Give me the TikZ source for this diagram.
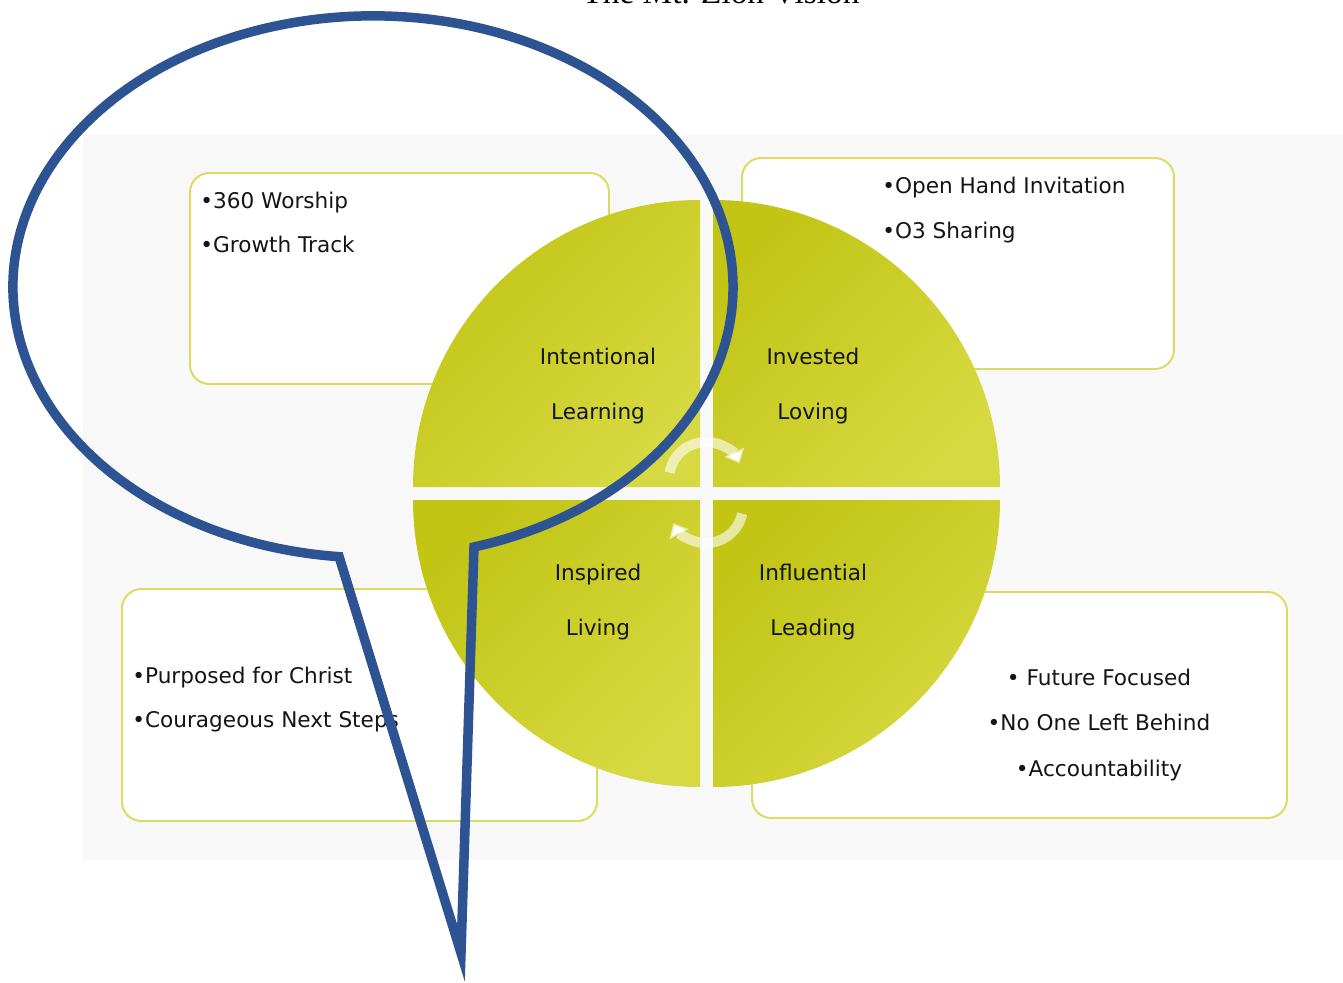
\documentclass[tikz,border=0pt]{standalone}
\usepackage{fontspec}
\setmainfont{DejaVu Sans}
\newfontfamily\titlefont{Liberation Serif}
\usetikzlibrary{arrows.meta}

\definecolor{panelgray}{RGB}{248,248,248}
\definecolor{boxline}{RGB}{216,220,96}
\definecolor{qdark}{RGB}{194,197,20}
\definecolor{qmid}{RGB}{214,218,32}
\definecolor{qlight}{RGB}{215,217,66}
\definecolor{calloutblue}{RGB}{46,83,146}
\definecolor{txt}{RGB}{20,20,20}

\begin{document}
\begin{tikzpicture}[
                x=0.02cm, y=-0.02cm,
                panel/.style={draw=boxline, line width=1.1pt, fill=white, rounded corners=11pt},
                quad/.style={shade, left color=qdark, middle color=qmid, right color=qlight, shading angle=45},
                quadlabel/.style={font=\fontsize{12.3}{14}\selectfont, text=txt, anchor=base, inner sep=0pt},
                item/.style={font=\fontsize{12.3}{14}\selectfont, text=txt, anchor=base west, inner sep=0pt},
                loop/.style={draw=white, draw opacity=0.6, line width=5.8pt, -{Triangle[width=12pt,length=7pt]}},
                callout/.style={draw=calloutblue, line width=5.4pt, line join=miter},
            ]
            \useasboundingbox (0,0) rectangle (1343,983);
            \fill[white] (0,0) rectangle (1343,983);

            % Titulo (cortado arriba)
            \node[font=\titlefont\fontsize{19}{22}\selectfont, anchor=base, inner sep=0pt] (title) at (721,4) {The Mt. Zion Vision};

            % Fondo
            \fill[panelgray] (83,135) rectangle (1343,860);

            % Cajas
            \draw[panel] (190,173) rectangle (609,384);
            \draw[panel] (742,158) rectangle (1174,369);
            \draw[panel] (122,589) rectangle (597,821);
            \draw[panel] (752,592) rectangle (1287,818);

            % Cuadrantes
            \path[quad] (700,487) -- (413,487) arc[start angle=180, end angle=270, radius=287] -- cycle;
            \path[quad] (713,487) -- (713,200) arc[start angle=270, end angle=360, radius=287] -- cycle;
            \path[quad] (700,500) -- (413,500) arc[start angle=180, end angle=90, radius=287] -- cycle;
            \path[quad] (713,500) -- (1000,500) arc[start angle=0, end angle=90, radius=287] -- cycle;

            % Flechas circulares
            \draw[loop] (706,479) ++(190:37) arc[start angle=190, end angle=335, radius=37];
            \draw[loop] (706,506) ++(12:37) arc[start angle=12, end angle=152, radius=37];

            % Etiquetas
            \node[quadlabel] (intentional) at (598,364) {Intentional};
            \node[quadlabel] (learning) at (598,419) {Learning};
            \node[quadlabel] (invested) at (813,364) {Invested};
            \node[quadlabel] (loving) at (813,419) {Loving};
            \node[quadlabel] (inspired) at (598,580) {Inspired};
            \node[quadlabel] (living) at (598,635) {Living};
            \node[quadlabel] (influential) at (813,580) {Influential};
            \node[quadlabel] (leading) at (813,635) {Leading};

            % Textos de las cajas
            \node[item] (worship) at (200,209) {•360 Worship};
            \node[item] (growth) at (200,253) {•Growth Track};
            \node[item] (invitation) at (882,194) {•Open Hand Invitation};
            \node[item] (sharing) at (882,239) {•O3 Sharing};
            \node[item] (purposed) at (132,683) {•Purposed for Christ};
            \node[item] (courageous) at (132,727) {•Courageous Next Steps};
            \node[quadlabel] (future) at (1099,685) {• Future Focused};
            \node[quadlabel] (noone) at (1099,730) {•No One Left Behind};
            \node[quadlabel] (account) at (1099,776) {•Accountability};

            % Globo
            \draw[callout] (474,547) arc[start angle=73.7, end angle=-264.6, x radius=360, y radius=271] -- (461,953) -- cycle;
        \end{tikzpicture}
\end{document}
